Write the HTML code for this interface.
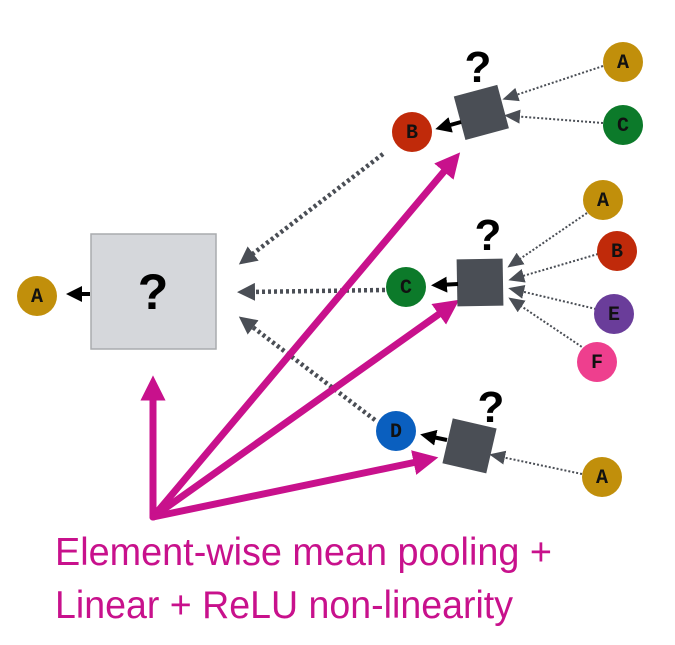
<!DOCTYPE html>
<html><head><meta charset="utf-8"><style>html,body{margin:0;padding:0;background:#fff}svg{display:block}
.l{font-family:"Liberation Mono",monospace;font-weight:bold;font-size:20px;text-anchor:middle;fill:#111}
.q{font-family:"Liberation Sans",sans-serif;font-weight:bold;text-anchor:middle;fill:#000}
</style></head>
<body>
<svg width="675" height="645" viewBox="0 0 675 645" xmlns="http://www.w3.org/2000/svg">
<defs>
<marker id="g" markerWidth="4" markerHeight="4" refX="2" refY="2" orient="auto" markerUnits="strokeWidth"><path d="M0,0 L4,2 L0,4 z" fill="#4a4e55"/></marker>
<marker id="gs" markerWidth="8" markerHeight="8" refX="4" refY="4" orient="auto" markerUnits="strokeWidth"><path d="M0,0.5 L8,4 L0,7.5 z" fill="#4a4e55"/></marker>
<marker id="b" markerWidth="4" markerHeight="4" refX="2" refY="2" orient="auto" markerUnits="strokeWidth"><path d="M0,0 L4,2 L0,4 z" fill="#000"/></marker>
<marker id="m" markerWidth="3.6" markerHeight="3.6" refX="1.8" refY="1.8" orient="auto" markerUnits="strokeWidth"><path d="M0,0 L3.6,1.8 L0,3.6 z" fill="#c8118c"/></marker>
</defs>
<rect x="91" y="234" width="125" height="115" fill="#d5d7db" stroke="#a9abae" stroke-width="1.5"/>
<text x="153" y="309" class="q" font-size="50">?</text>
<line x1="90" y1="294" x2="74" y2="294" stroke="#000" stroke-width="4" marker-end="url(#b)"/>
<circle cx="37" cy="296" r="20" fill="#c18f0b"/><text x="37" y="302" class="l">A</text>

<g stroke="#4a4e55" stroke-width="4.5" stroke-dasharray="3,3" fill="none">
<line x1="383" y1="154" x2="246" y2="259" marker-end="url(#g)"/>
<line x1="385" y1="290" x2="246" y2="292" marker-end="url(#g)"/>
<line x1="375" y1="420" x2="246" y2="322" marker-end="url(#g)"/>
</g>

<g stroke="#c8118c" stroke-width="7" fill="none" stroke-linecap="round">
<line x1="153" y1="517" x2="153" y2="388" marker-end="url(#m)"/>
<line x1="153" y1="517" x2="452" y2="162" marker-end="url(#m)"/>
<line x1="153" y1="517" x2="449" y2="307" marker-end="url(#m)"/>
<line x1="153" y1="517" x2="426" y2="460" marker-end="url(#m)"/>
</g>

<g stroke="#4a4e55" stroke-width="2" stroke-dasharray="2,2" fill="none">
<line x1="603" y1="66" x2="510" y2="97" marker-end="url(#gs)"/>
<line x1="603" y1="123" x2="512" y2="116" marker-end="url(#gs)"/>
</g>
<rect x="459" y="90" width="45" height="45" fill="#4a4e55" transform="rotate(-15 481 113)"/>
<text x="478" y="82" class="q" font-size="44">?</text>
<line x1="461" y1="122" x2="443" y2="127" stroke="#000" stroke-width="4" marker-end="url(#b)"/>
<circle cx="412" cy="132" r="20" fill="#c02a0a"/><text x="412" y="138" class="l">B</text>
<circle cx="623" cy="62" r="20" fill="#c18f0b"/><text x="623" y="68" class="l">A</text>
<circle cx="623" cy="125" r="20" fill="#0c7a2a"/><text x="623" y="131" class="l">C</text>

<g stroke="#4a4e55" stroke-width="2" stroke-dasharray="2,2" fill="none">
<line x1="587" y1="213" x2="514" y2="263" marker-end="url(#gs)"/>
<line x1="598" y1="254" x2="516" y2="278" marker-end="url(#gs)"/>
<line x1="596" y1="309" x2="516" y2="290" marker-end="url(#gs)"/>
<line x1="585" y1="349" x2="515" y2="302" marker-end="url(#gs)"/>
</g>
<rect x="457" y="259" width="46" height="47" fill="#4a4e55" transform="rotate(-1 480 282)"/>
<text x="488" y="250" class="q" font-size="44">?</text>
<line x1="458" y1="284" x2="439" y2="285" stroke="#000" stroke-width="4" marker-end="url(#b)"/>
<circle cx="406" cy="287" r="20" fill="#0c7a2a"/><text x="406" y="293" class="l">C</text>
<circle cx="603" cy="200" r="20" fill="#c18f0b"/><text x="603" y="206" class="l">A</text>
<circle cx="617" cy="251" r="20" fill="#c02a0a"/><text x="617" y="257" class="l">B</text>
<circle cx="614" cy="314" r="20" fill="#6a3d9a"/><text x="614" y="320" class="l">E</text>
<circle cx="597" cy="362" r="20" fill="#ee3f8e"/><text x="597" y="368" class="l">F</text>

<line x1="582" y1="474" x2="497" y2="456" stroke="#4a4e55" stroke-width="2" stroke-dasharray="2,2" marker-end="url(#gs)"/>
<rect x="447" y="423" width="45" height="46" fill="#4a4e55" transform="rotate(13 470 446)"/>
<text x="491" y="422" class="q" font-size="44">?</text>
<line x1="447" y1="440" x2="428" y2="436" stroke="#000" stroke-width="4" marker-end="url(#b)"/>
<circle cx="396" cy="431" r="20" fill="#0a5fbf"/><text x="396" y="437" class="l">D</text>
<circle cx="602" cy="477" r="20" fill="#c18f0b"/><text x="602" y="483" class="l">A</text>

<g font-family="Liberation Sans, sans-serif" font-size="39" fill="#c8118c">
<text x="55" y="565" textLength="497" lengthAdjust="spacingAndGlyphs">Element-wise mean pooling +</text>
<text x="55" y="618" textLength="458" lengthAdjust="spacingAndGlyphs">Linear + ReLU non-linearity</text>
</g>
</svg>
</body></html>
